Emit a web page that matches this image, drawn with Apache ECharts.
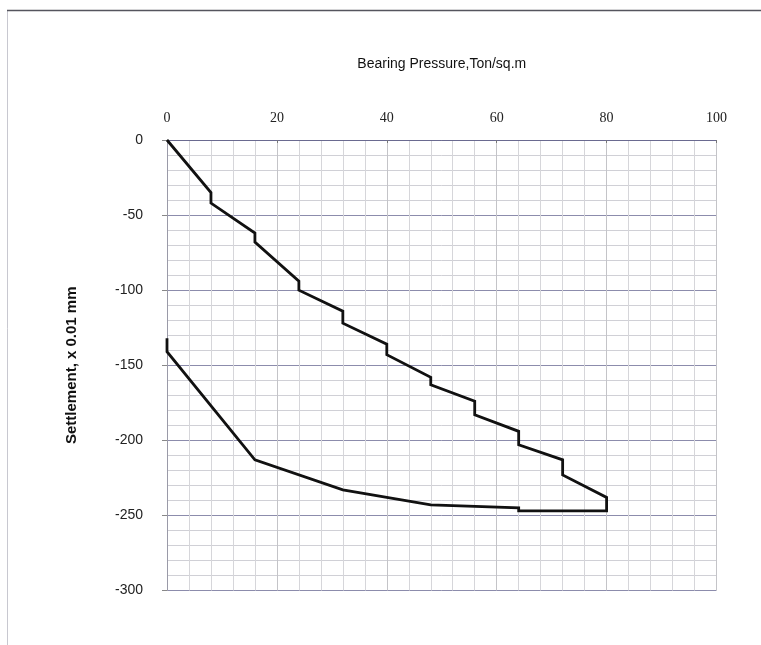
<!DOCTYPE html>
<html><head><meta charset="utf-8">
<script src="https://cdn.jsdelivr.net/npm/echarts@6/dist/echarts.min.js"></script>
<style>html,body{margin:0;padding:0;background:#fff}#c{width:761px;height:645px}</style>
</head><body><div id="c"></div>
<script>
var pressure = [0, 8, 8, 16, 16, 24, 24, 32, 32, 40, 40, 48, 48, 56, 56, 64, 64, 72, 72, 80, 80, 64, 64, 48, 40, 32, 16, 0, 0];
var settlement = [0, -35, -42, -62, -68, -94, -100, -114, -122, -136, -143, -158, -163, -174, -183, -194, -203, -213, -223, -238, -247, -247, -245, -243, -238, -233, -213, -141, -132];
var xTicks = [0, 20, 40, 60, 80, 100];
var yTicks = [0, -50, -100, -150, -200, -250, -300];

var data = pressure.map(function (p, i) { return [p, settlement[i]]; });
var chart = echarts.init(document.getElementById('c'));
chart.setOption({
  animation: false,
  backgroundColor: '#fff',
  graphic: [{
    type: 'rect', silent: true, z: -1,
    shape: { x: 7.5, y: 10.5, width: 800, height: 700 },
    style: { fill: 'none', stroke: '#c8c8d0', lineWidth: 1 }
  }, {
    type: 'line', silent: true,
    shape: { x1: 7, y1: 10.5, x2: 761, y2: 10.5 },
    style: { stroke: '#55555e', lineWidth: 1.5 }
  }],
  grid: { left: 167, top: 140, right: 44.5, bottom: 54.5 },
  xAxis: {
    type: 'value', position: 'top', min: xTicks[0], max: xTicks[xTicks.length - 1], interval: 20,
    name: 'Bearing Pressure,Ton/sq.m', nameLocation: 'middle', nameGap: 69,
    nameTextStyle: { fontFamily: 'Liberation Sans', fontSize: 14, color: '#111' },
    axisLine: { show: true, lineStyle: { color: '#6a6a90', width: 1 } },
    axisTick: { show: true, inside: true, length: 3, lineStyle: { color: '#777' } },
    axisLabel: { fontFamily: 'Liberation Serif', fontSize: 14, color: '#222', margin: 15 },
    splitLine: { show: true, lineStyle: { color: '#c4c4c8', width: 1 } },
    minorTick: { show: false, splitNumber: 5 },
    minorSplitLine: { show: true, lineStyle: { color: '#d6d6da', width: 1 } }
  },
  yAxis: {
    type: 'value', min: yTicks[yTicks.length - 1], max: yTicks[0], interval: 50,
    name: 'Settlement, x 0.01 mm', nameLocation: 'middle', nameGap: 88, nameRotate: 90,
    nameTextStyle: { fontFamily: 'Liberation Sans', fontSize: 15, fontWeight: 'bold', color: '#111' },
    axisLine: { show: true, lineStyle: { color: '#9a9aa8', width: 1 } },
    axisTick: { show: true, length: 5, lineStyle: { color: '#888' } },
    axisLabel: { fontFamily: 'Liberation Sans', fontSize: 14, color: '#222', margin: 24 },
    splitLine: { show: true, lineStyle: { color: '#8c8cac', width: 1 } },
    minorTick: { show: false, splitNumber: 5 },
    minorSplitLine: { show: true, lineStyle: { color: '#d0d0d6', width: 1 } }
  },
  series: [{
    type: 'line', data: data, showSymbol: false, symbol: 'none',
    lineStyle: { color: '#111', width: 2.8, join: 'miter' }
  }]
});
</script></body></html>
